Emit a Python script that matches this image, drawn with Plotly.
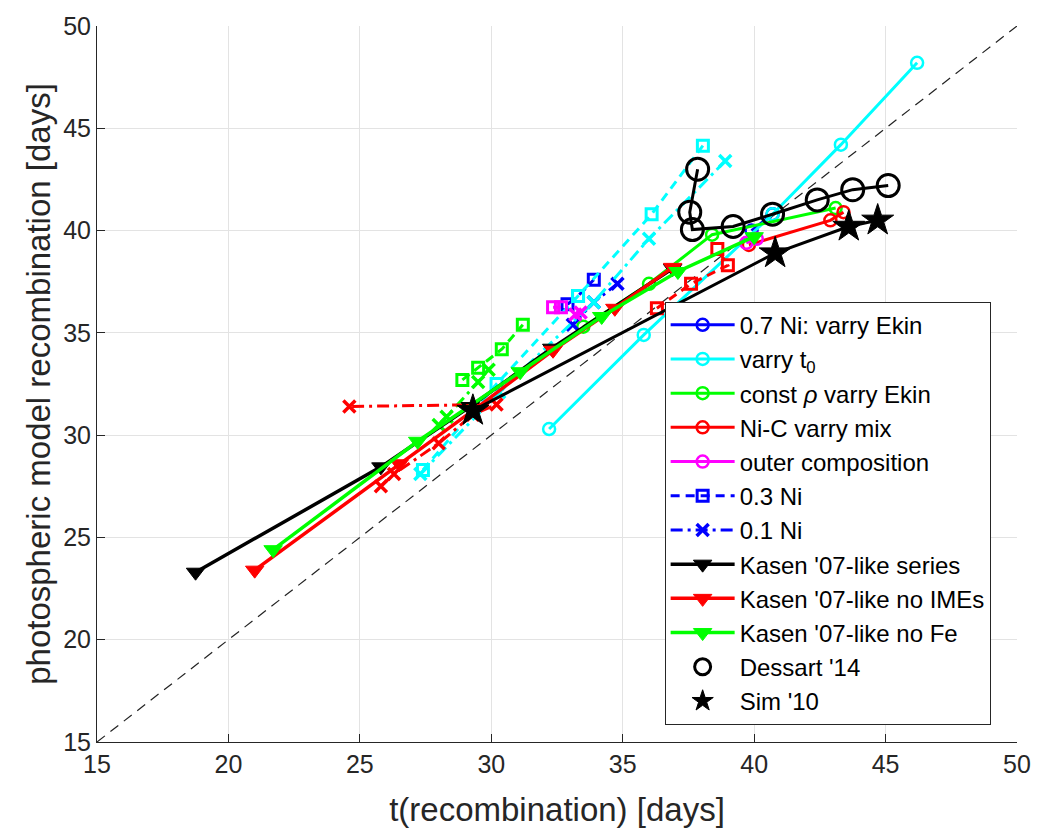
import plotly.graph_objects as go

# ---- data: t(recombination) [days] vs photospheric-model recombination [days] ----
# 0.7 Ni models, kinetic energy varied (blue)
ni07_ekin_t = [39.9, 40.7]
ni07_ekin_ph = [40.0, 40.8]
ni03_ekin_t = [32.9, 33.3, 33.9]
ni03_ekin_ph = [36.4, 36.8, 37.6]
ni01_ekin_t = [33.1, 33.9, 34.8]
ni01_ekin_ph = [35.4, 36.5, 37.4]

# explosion epoch t0 varied (cyan)
ni07_t0_t = [32.2, 35.8, 40.7, 43.3, 46.2]
ni07_t0_ph = [30.3, 34.9, 40.8, 44.2, 48.2]
ni03_t0_t = [27.4, 30.2, 33.3, 36.1, 38.05]
ni03_t0_ph = [28.3, 32.5, 36.8, 40.8, 44.15]
ni01_t0_t = [27.3, 30.3, 33.9, 36.0, 38.9]
ni01_t0_ph = [28.1, 32.1, 36.5, 39.6, 43.4]

# constant density profile, kinetic energy varied (green)
ni07_rho_t = [33.5, 36.0, 38.4, 43.1]
ni07_rho_ph = [35.3, 37.4, 39.8, 41.1]
ni03_rho_t = [28.9, 29.5, 30.4, 31.2]
ni03_rho_ph = [32.7, 33.3, 34.2, 35.4]
ni01_rho_t = [28.0, 28.3, 29.5, 29.9]
ni01_rho_ph = [30.5, 30.9, 32.6, 33.2]

# Ni-C mixing varied (red)
ni07_mix_t = [39.8, 42.9, 43.4]
ni07_mix_ph = [39.3, 40.5, 40.9]
ni03_mix_t = [36.3, 37.6, 39.0, 38.6]
ni03_mix_ph = [36.2, 37.4, 38.3, 39.1]
ni01_mix_t = [25.8, 26.3, 28.0, 29.3, 30.2, 24.6]
ni01_mix_ph = [27.5, 28.1, 29.6, 31.0, 31.5, 31.4]

# outer composition (magenta)
ni07_outer_t = [39.7, 40.1]
ni07_outer_ph = [39.4, 39.6]
ni03_outer_t = [32.35, 32.65]
ni03_outer_ph = [36.25, 36.25]
ni01_outer_t = [33.2, 33.4]
ni01_outer_ph = [35.9, 36.0]

# Kasen '07-like model series
kasen_t = [18.75, 25.8, 29.2, 32.3, 36.9]
kasen_ph = [23.3, 28.45, 31.4, 34.25, 38.15]
kasen_noime_t = [21.0, 26.5, 29.4, 32.35, 34.7, 36.9]
kasen_noime_ph = [23.4, 28.6, 31.3, 34.15, 36.2, 38.2]
kasen_nofe_t = [21.7, 27.2, 31.1, 34.2, 37.1, 40.0]
kasen_nofe_ph = [24.4, 29.7, 33.1, 35.8, 38.0, 39.7]

# literature models
dessart_t = [37.85, 37.55, 37.65, 39.2, 40.7, 42.4, 43.75, 45.1]
dessart_ph = [43.0, 40.9, 40.05, 40.2, 40.8, 41.5, 42.0, 42.2]
sim_t = [29.3, 40.8, 43.6, 44.7]
sim_ph = [31.2, 38.9, 40.2, 40.5]

one_to_one = [15, 50]

BLUE, CYAN, GREEN, RED, MAGENTA, BLACK = "#0000ff", "#00ffff", "#00ff00", "#ff0000", "#ff00ff", "#000000"
FONT = "Liberation Sans, Arial, sans-serif"

fig = go.Figure()

# dashed 1:1 reference line
fig.add_trace(go.Scatter(x=one_to_one, y=one_to_one, mode="lines",
                         line=dict(color="#222222", width=1.2, dash="10px,7px"),
                         showlegend=False, hoverinfo="skip"))


def add_series(t, ph, color, kind, name=None, rank=None):
    if kind == "ni07":
        line = dict(color=color, width=3, dash="solid")
        marker = dict(symbol="circle-open", size=12, color=color, line=dict(width=2.5, color=color))
    elif kind == "ni03":
        line = dict(color=color, width=3, dash="9px,6px")
        marker = dict(symbol="square-open", size=11, color=color, line=dict(width=3, color=color))
    else:
        line = dict(color=color, width=3, dash="12px,5px,3px,5px")
        marker = dict(symbol="x-thin", size=12, color=color, line=dict(width=3.5, color=color))
    trace = go.Scatter(x=t, y=ph, mode="lines+markers", line=line, marker=marker,
                       showlegend=name is not None)
    if name is not None:
        trace.update(name=name, legendrank=rank)
    fig.add_trace(trace)


# ni-fraction families (only the blue ones define line-style legend entries)
add_series(ni07_ekin_t, ni07_ekin_ph, BLUE, "ni07", "0.7 Ni: varry Ekin", 1)
add_series(ni07_t0_t, ni07_t0_ph, CYAN, "ni07", "varry t<sub>0</sub>", 2)
add_series(ni07_rho_t, ni07_rho_ph, GREEN, "ni07", "const <i>ρ</i> varry Ekin", 3)
add_series(ni07_mix_t, ni07_mix_ph, RED, "ni07", "Ni-C varry mix", 4)
add_series(ni07_outer_t, ni07_outer_ph, MAGENTA, "ni07", "outer composition", 5)
add_series(ni03_ekin_t, ni03_ekin_ph, BLUE, "ni03", "0.3 Ni", 6)
add_series(ni01_ekin_t, ni01_ekin_ph, BLUE, "ni01", "0.1 Ni", 7)
add_series(ni03_t0_t, ni03_t0_ph, CYAN, "ni03")
add_series(ni01_t0_t, ni01_t0_ph, CYAN, "ni01")
add_series(ni03_rho_t, ni03_rho_ph, GREEN, "ni03")
add_series(ni01_rho_t, ni01_rho_ph, GREEN, "ni01")
add_series(ni03_mix_t, ni03_mix_ph, RED, "ni03")
add_series(ni01_mix_t, ni01_mix_ph, RED, "ni01")
add_series(ni03_outer_t, ni03_outer_ph, MAGENTA, "ni03")
add_series(ni01_outer_t, ni01_outer_ph, MAGENTA, "ni01")

# Kasen '07-like series
for t, ph, color, name, rank in [
    (kasen_t, kasen_ph, BLACK, "Kasen '07-like series", 8),
    (kasen_noime_t, kasen_noime_ph, RED, "Kasen '07-like no IMEs", 9),
    (kasen_nofe_t, kasen_nofe_ph, GREEN, "Kasen '07-like no Fe", 10),
]:
    fig.add_trace(go.Scatter(x=t, y=ph, mode="lines+markers", name=name, legendrank=rank,
                             line=dict(color=color, width=3.5),
                             marker=dict(symbol="triangle-down", size=16, color=color,
                                         line=dict(width=1, color=color))))

# literature comparison: connecting lines without legend, markers with legend
fig.add_trace(go.Scatter(x=dessart_t, y=dessart_ph, mode="lines", showlegend=False,
                         line=dict(color=BLACK, width=3)))
fig.add_trace(go.Scatter(x=dessart_t, y=dessart_ph, mode="markers", name="Dessart '14", legendrank=11,
                         marker=dict(symbol="circle-open", size=22, color=BLACK,
                                     line=dict(width=3, color=BLACK))))
fig.add_trace(go.Scatter(x=sim_t, y=sim_ph, mode="lines", showlegend=False,
                         line=dict(color=BLACK, width=3)))
fig.add_trace(go.Scatter(x=sim_t, y=sim_ph, mode="markers", name="Sim '10", legendrank=12,
                         marker=dict(symbol="star", size=24, color=BLACK,
                                     line=dict(width=1, color=BLACK))))

axis_common = dict(
    range=[15, 50], dtick=5, tick0=15,
    showgrid=True, gridcolor="#e3e3e3", gridwidth=1,
    showline=True, linecolor="#262626", linewidth=1, mirror=False,
    ticks="inside", ticklen=8, tickcolor="#262626", tickwidth=1,
    tickfont=dict(family=FONT, size=25, color="#262626"),
    zeroline=False,
)

fig.update_layout(
    width=1053, height=840,
    margin=dict(l=97, r=36, t=17, b=98),
    paper_bgcolor="white", plot_bgcolor="white",
    font=dict(family=FONT, color="#262626"),
    xaxis=dict(axis_common, title=dict(text="t(recombination) [days]",
                                       font=dict(size=33, color="#262626"), standoff=20)),
    yaxis=dict(axis_common, title=dict(text="photospheric model recombination [days]",
                                       font=dict(size=33, color="#262626"), standoff=2)),
    legend=dict(x=0.617, y=0.615, xanchor="left", yanchor="top",
                bgcolor="white", bordercolor="#262626", borderwidth=1,
                font=dict(family=FONT, size=24, color="#000000"), itemwidth=64,
                tracegroupgap=0, traceorder="normal"),
)

fig.write_html("out.html")
